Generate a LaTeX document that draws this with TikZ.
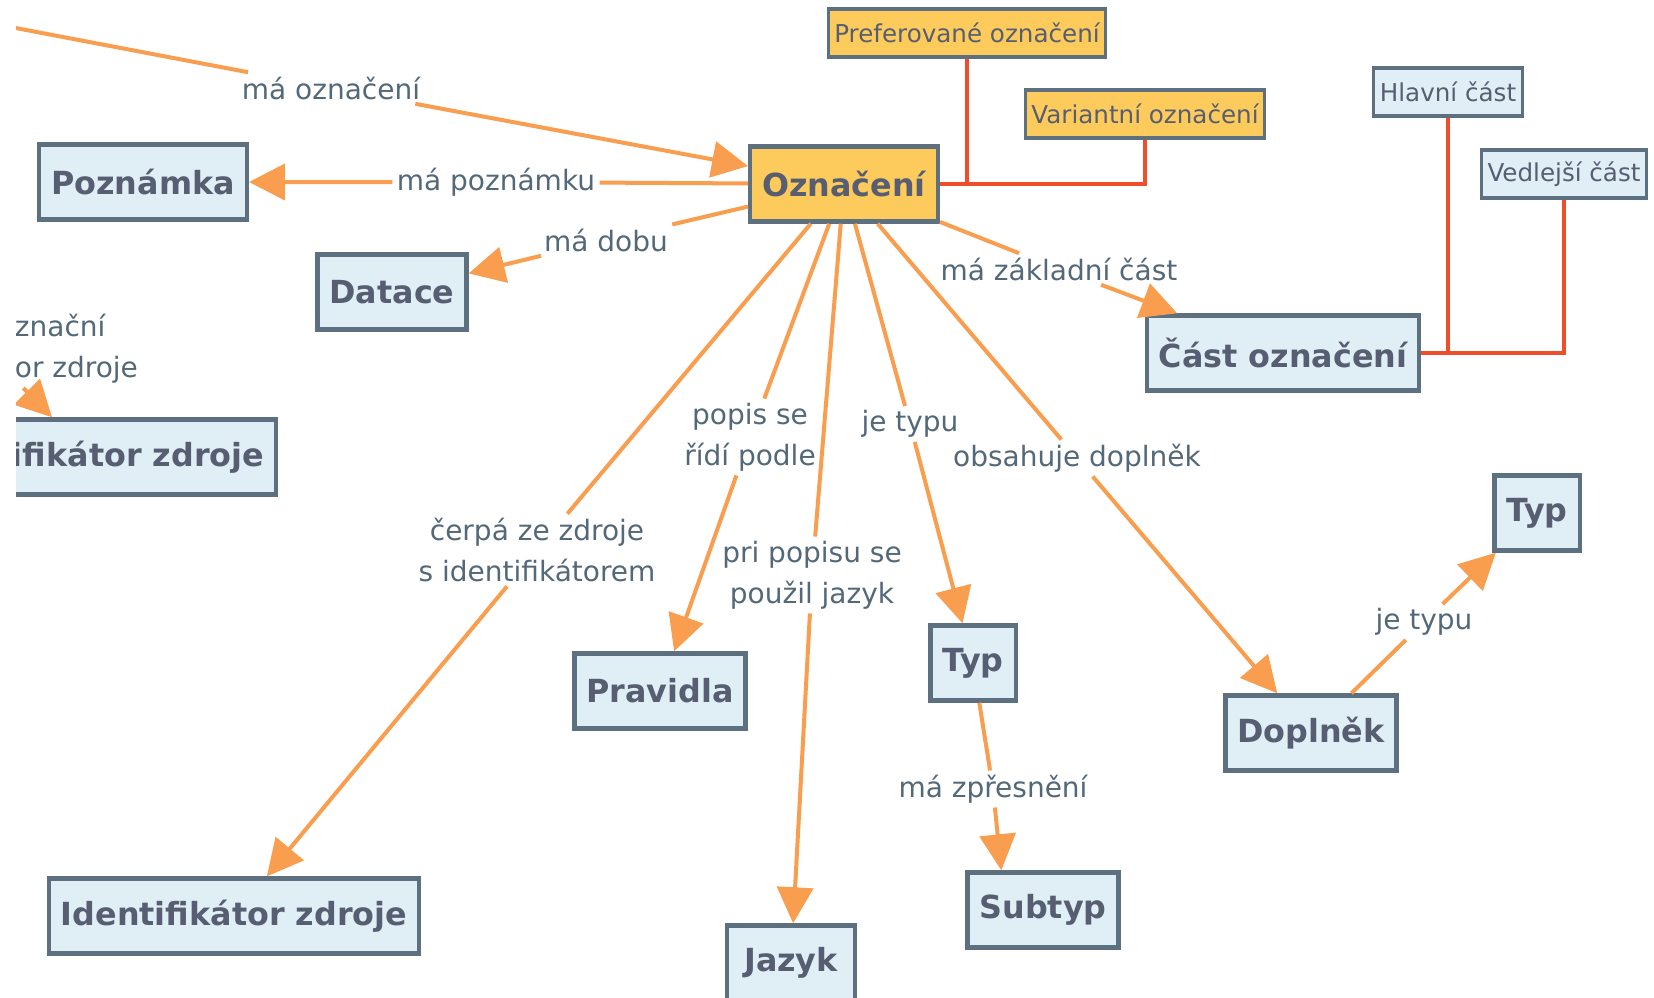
\documentclass[tikz,border=0pt]{standalone}
\usepackage{fontspec}
\setmainfont{DejaVu Sans}
\usetikzlibrary{arrows.meta}
\definecolor{boxfill}{HTML}{E0EEF6}
\definecolor{boxline}{HTML}{5D7080}
\definecolor{ozfill}{HTML}{FDCB5C}
\definecolor{edgecol}{HTML}{F99D4E}
\definecolor{linkcol}{HTML}{F04E2B}
\definecolor{labelcol}{HTML}{536878}
\definecolor{textcol}{HTML}{575E72}
\tikzstyle{concept} = [rectangle, draw=boxline, line width=2.2pt, fill=boxfill, text=textcol, font=\fontsize{15.9}{18}\selectfont\bfseries, minimum height=37.5pt, inner xsep=6pt, text centered]
\tikzstyle{mainconcept} = [concept, fill=ozfill]
\tikzstyle{smallbox} = [rectangle, draw=boxline, line width=1.6pt, fill=boxfill, text=textcol, font=\fontsize{12.3}{14}\selectfont, minimum height=24pt, inner xsep=3pt]
\tikzstyle{smallyellow} = [smallbox, fill=ozfill]
\tikzstyle{phrase} = [text=labelcol, font=\fontsize{14}{20.5}\selectfont, align=center, inner sep=2pt]
\tikzstyle{edge} = [edgecol, line width=2pt, -{Triangle[length=18pt,width=18pt]}]
\tikzstyle{link} = [linkcol, line width=2pt]

\begin{document}
\begin{tikzpicture}[x=0.5pt, y=-0.5pt]
\useasboundingbox (0,0) rectangle (1654,997);
\clip (16,0) rectangle (1654,997);

% concepts
\node (ozn) [mainconcept] at (844,184) {Označení};
\node (pozn) [concept] at (143,182) {Poznámka};
\node (dat) [concept] at (392,292) {Datace};
\node (pref) [smallyellow] at (967,33) {Preferované označení};
\node (var) [smallyellow] at (1145,114) {Variantní označení};
\node (hlav) [smallbox] at (1448,92) {Hlavní část};
\node (vedl) [smallbox] at (1564,174) {Vedlejší část};
\node (cast) [concept] at (1283,353) {Část označení};
\node (idzL) [concept] at (91,457) {Identifikátor zdroje};
\node (idz) [concept] at (234,916) {Identifikátor zdroje};
\node (prav) [concept] at (660,691) {Pravidla};
\node (jaz) [concept, minimum width=64pt] at (791,963) {Jazyk};
\node (typ) [concept] at (973,663) {Typ};
\node (sub) [concept] at (1043,910) {Subtyp};
\node (dopl) [concept] at (1311,733) {Doplněk};
\node (typ2) [concept] at (1537,513) {Typ};

% linking phrases
\node (lOzn) [phrase] at (331,88) {má označení};
\node (lPozn) [phrase] at (496,182) {má poznámku};
\node (lDat) [phrase] at (606,240) {má dobu};
\node (lIdzL) [phrase] at (-15,349) {\hspace*{40pt}má označní\\\hspace*{21pt}identifikátor zdroje};
\node (lCerpa) [phrase] at (537,550) {čerpá ze zdroje\\s identifikátorem};
\node (lPopis) [phrase] at (750,437) {popis se\\řídí podle};
\node (lJaz) [phrase] at (812,575) {pri popisu se\\použil jazyk};
\node (lTyp) [phrase] at (910,424) {je typu};
\node (lDopl) [phrase] at (1077,458) {obsahuje doplněk};
\node (lCast) [phrase] at (1059,269) {má základní část};
\node (lSub) [phrase] at (993,789) {má zpřesnění};
\node (lTyp2) [phrase] at (1424,622) {je typu};

\coordinate (src) at (-100,6);

% connections
\draw [edge] (src) -- (lOzn) -- (ozn);
\draw [edge] (ozn) -- (lPozn) -- (pozn);
\draw [edge] (ozn) -- (lDat) -- (dat);
\draw [edge] (lIdzL) -- (idzL);
\draw [edge] (ozn) -- (lCerpa) -- (idz);
\draw [edge] (ozn) -- (lPopis) -- (prav);
\draw [edge] (ozn) -- (lJaz) -- (jaz);
\draw [edge] (ozn) -- (lTyp) -- (typ);
\draw [edge] (ozn) -- (lDopl) -- (dopl);
\draw [edge] (ozn) -- (lCast) -- (cast);
\draw [edge] (typ) -- (lSub) -- ([xshift=18pt]sub.north west);
\draw [edge] (dopl) -- (lTyp2) -- (typ2);

\draw [link] (ozn.east) -| (var.south);
\draw [link] (pref.south) -- (pref.south |- ozn.east);
\draw [link] (cast.east) -| (vedl.south);
\draw [link] (hlav.south) -- (hlav.south |- cast.east);

\end{tikzpicture}
\end{document}
